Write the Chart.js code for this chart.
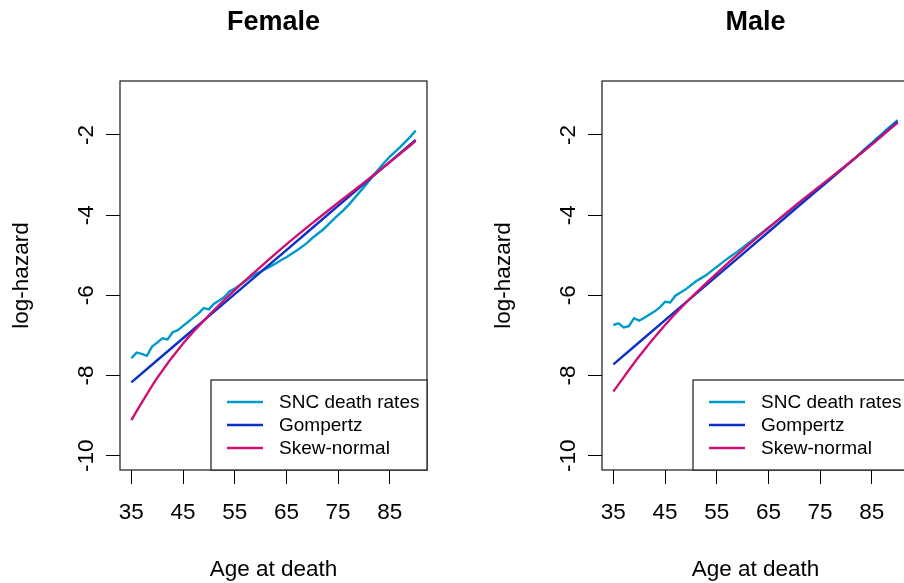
<!DOCTYPE html>
<html><head><meta charset="utf-8">
<script src="https://cdn.jsdelivr.net/npm/chart.js@4.4.1/dist/chart.umd.min.js"></script>
<style>
html,body{margin:0;padding:0;background:#fff;overflow:hidden;width:904px;height:583px;}
#wrap{position:relative;width:904px;height:583px;overflow:hidden;background:#fff;}
canvas{position:absolute;top:0;}
#c1{left:0;}
#c2{left:482px;}
</style></head><body>
<div id="wrap"><canvas id="c1" width="482" height="583"></canvas><canvas id="c2" width="482" height="583"></canvas></div>
<script>
// ---- data ----
const panelTitles = ['Female', 'Male'];
const seriesLabels = ['SNC death rates', 'Gompertz', 'Skew-normal'];
const seriesColors = ['#009ACD', '#0A30C8', '#CD1076'];
const xTickValues = [35, 45, 55, 65, 75, 85];
const yTickValues = [-10, -8, -6, -4, -2];
const yTickLabels = ['-10', '-8', '-6', '-4', '-2'];
const xTitle = 'Age at death';
const yTitle = 'log-hazard';

const sncAges = [35,36,37,38,39,40,41,42,43,44,45,46,47,48,49,50,51,52,53,54,55,56,57,58,59,60,61,62,63,64,65,66,67,68,69,70,71,72,73,74,75,76,77,78,79,80,81,82,83,84,85,86,87,88,89,90];
const femaleSNC = [-7.57,-7.43,-7.46,-7.51,-7.28,-7.18,-7.07,-7.10,-6.92,-6.87,-6.76,-6.66,-6.55,-6.45,-6.32,-6.35,-6.21,-6.13,-6.04,-5.90,-5.83,-5.74,-5.65,-5.55,-5.47,-5.41,-5.34,-5.27,-5.20,-5.12,-5.05,-4.96,-4.88,-4.79,-4.69,-4.57,-4.47,-4.37,-4.25,-4.12,-4.00,-3.88,-3.75,-3.60,-3.45,-3.30,-3.14,-2.98,-2.83,-2.68,-2.54,-2.42,-2.30,-2.17,-2.04,-1.89];
const maleSNC = [-6.74,-6.70,-6.80,-6.77,-6.57,-6.63,-6.56,-6.48,-6.40,-6.30,-6.16,-6.18,-6.01,-5.93,-5.85,-5.75,-5.65,-5.57,-5.49,-5.39,-5.29,-5.19,-5.09,-5.00,-4.91,-4.81,-4.71,-4.61,-4.51,-4.41,-4.31,-4.21,-4.11,-4.01,-3.91,-3.81,-3.71,-3.61,-3.51,-3.41,-3.31,-3.21,-3.10,-2.99,-2.88,-2.77,-2.66,-2.55,-2.43,-2.31,-2.20,-2.08,-1.97,-1.85,-1.74,-1.63];

const modelAges = [35,40,45,50,55,60,65,70,75,80,85,90];
const femaleGompertz = [-8.17,-7.62,-7.07,-6.52,-5.97,-5.42,-4.87,-4.32,-3.77,-3.22,-2.67,-2.12];
const femaleSkew = [-9.11,-8.06,-7.20,-6.50,-5.87,-5.29,-4.73,-4.20,-3.69,-3.19,-2.68,-2.15];
const maleGompertz = [-7.72,-7.17,-6.62,-6.07,-5.52,-4.97,-4.42,-3.87,-3.32,-2.77,-2.22,-1.67];
const maleSkew = [-8.40,-7.52,-6.74,-6.06,-5.45,-4.87,-4.32,-3.78,-3.27,-2.76,-2.24,-1.69];

// ---- chart ----
Chart.defaults.font.family = "'Liberation Sans', Arial, Helvetica, sans-serif";
Chart.defaults.color = '#000';

const boxPlugin = {
  id: 'rbox',
  afterDatasetsDraw(chart, args, opts) {
    const {ctx, chartArea: a} = chart;
    ctx.save();
    // main title centred over the plot region
    ctx.fillStyle = '#000';
    ctx.font = "bold 27px 'Liberation Sans', Arial, sans-serif";
    ctx.textAlign = 'center';
    ctx.textBaseline = 'middle';
    ctx.fillText(opts.text, (a.left + a.right) / 2, 23);
    // plot box
    ctx.strokeStyle = '#1a1a1a';
    ctx.lineWidth = 1.2;
    ctx.strokeRect(a.left, a.top, a.right - a.left, a.bottom - a.top);
    // legend (bottomright)
    const w = 216, h = 90;
    const x0 = a.right - w, y0 = a.bottom - h;
    ctx.fillStyle = '#fff';
    ctx.fillRect(x0, y0, w, h);
    ctx.strokeRect(x0, y0, w, h);
    ctx.font = "19px 'Liberation Sans', Arial, sans-serif";
    ctx.textBaseline = 'middle';
    ctx.textAlign = 'left';
    chart.data.datasets.forEach((ds, i) => {
      const y = y0 + 22 + i * 23;
      ctx.strokeStyle = ds.borderColor;
      ctx.lineWidth = 2.4;
      ctx.beginPath();
      ctx.moveTo(x0 + 16, y);
      ctx.lineTo(x0 + 52, y);
      ctx.stroke();
      ctx.fillStyle = '#000';
      ctx.fillText(ds.label, x0 + 68, y + 1);
    });
    ctx.restore();
  }
};

function makeChart(id, title, snc, gomp, skew) {
  const pts = (xs, ys) => xs.map((x, i) => ({x: x, y: ys[i]}));
  return new Chart(document.getElementById(id), {
    type: 'line',
    data: {
      datasets: [
        {label: seriesLabels[0], data: pts(sncAges, snc), borderColor: seriesColors[0], borderWidth: 2.4, pointRadius: 0, tension: 0, order: 3},
        {label: seriesLabels[1], data: pts(modelAges, gomp), borderColor: seriesColors[1], borderWidth: 2.4, pointRadius: 0, tension: 0, order: 2},
        {label: seriesLabels[2], data: pts(modelAges, skew), borderColor: seriesColors[2], borderWidth: 2.4, pointRadius: 0, cubicInterpolationMode: 'monotone', order: 1}
      ]
    },
    options: {
      responsive: false,
      animation: false,
      devicePixelRatio: 1,
      layout: {padding: {left: 0, right: 55, top: 81, bottom: 0}},
      plugins: {
        legend: {display: false},
        tooltip: {enabled: false},
        title: {display: false},
        rbox: {text: title}
      },
      scales: {
        x: {
          type: 'linear', min: 32.8, max: 92.2,
          afterBuildTicks: s => { s.ticks = xTickValues.map(v => ({value: v})); },
          afterFit: s => { s.height = 113; },
          grid: {drawOnChartArea: false, drawTicks: true, tickLength: 14, tickColor: '#000', tickWidth: 1},
          border: {display: false},
          ticks: {font: {size: 22.5}, color: '#000', padding: 15.5, maxRotation: 0, autoSkip: false},
          title: {display: true, text: xTitle, color: '#000', font: {size: 22.5}, padding: {top: 0, bottom: 0}}
        },
        y: {
          type: 'linear', min: -10.357, max: -0.653,
          afterBuildTicks: s => { s.ticks = yTickValues.map(v => ({value: v})); },
          afterFit: s => { s.width = 120; },
          grid: {drawOnChartArea: false, drawTicks: true, tickLength: 14, tickColor: '#000', tickWidth: 1},
          border: {display: false},
          ticks: {font: {size: 22.5}, color: '#000', padding: 3, minRotation: 90, maxRotation: 90, crossAlign: 'center',
            callback: (v) => { const i = yTickValues.indexOf(v); return i >= 0 ? yTickLabels[i] : ''; }},
          title: {display: true, text: yTitle, color: '#000', font: {size: 22.5}, padding: {top: 8, bottom: 0}}
        }
      }
    },
    plugins: [boxPlugin]
  });
}

makeChart('c1', panelTitles[0], femaleSNC, femaleGompertz, femaleSkew);
makeChart('c2', panelTitles[1], maleSNC, maleGompertz, maleSkew);
</script>
</body></html>
